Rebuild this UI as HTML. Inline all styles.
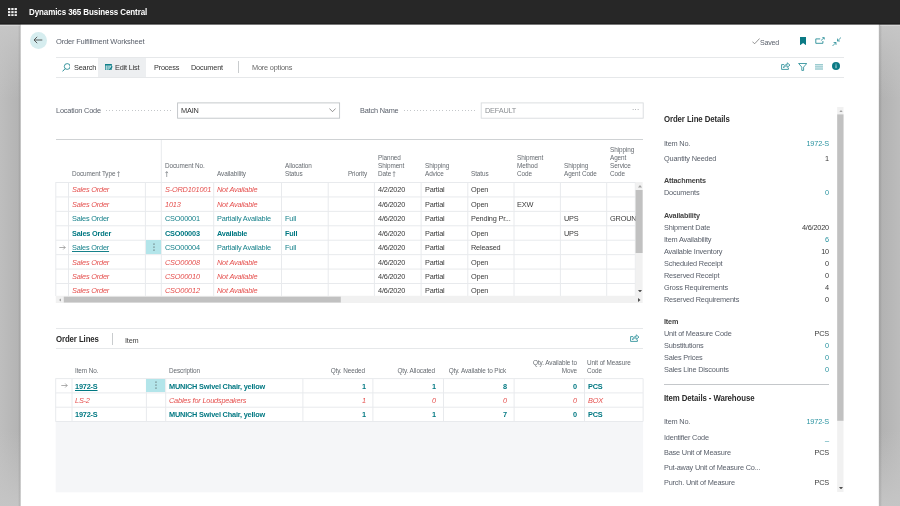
<!DOCTYPE html>
<html><head><meta charset="utf-8">
<style>
html,body{margin:0;padding:0;}
body{width:900px;height:506px;overflow:hidden;position:relative;background:#fff;font-family:"Liberation Sans",sans-serif;font-size:7.7px;color:#3a3a3a;letter-spacing:-0.2px;}
div,span{box-sizing:border-box;}
.a{position:absolute;}
.t{position:absolute;white-space:nowrap;line-height:11.2px;height:11.2px;transform:scaleX(0.955);transform-origin:0 50%;}
.r{text-align:right;}
.t.r{transform-origin:100% 50%;}
.b{font-weight:bold;}
.i{font-style:italic;}
.red{color:#e5504e;}
.teal{color:#16818b;}
.tealb{color:#007882;font-weight:bold;}
.g{color:#5a606b;}
.lnk{color:#2a93a0;}
.hl{position:absolute;height:1px;background:#e5e7e9;}
.vl{position:absolute;width:1px;background:#e5e7e9;}
.hd{color:#656a70;font-size:6.7px;line-height:7.8px;letter-spacing:-0.1px;}
</style></head><body>
<div id="root" style="position:absolute;left:0;top:0;width:900px;height:506px;will-change:transform;transform:translateZ(0);">

<!-- top bar -->
<div class="a" style="left:0;top:0;width:900px;height:24px;background:#272727;"></div>
<svg class="a" style="left:7.8px;top:7.8px" width="9.2" height="8.4" viewBox="0 0 9.2 8.4"><g fill="#f2f2f2"><rect x="0" y="0" width="2.3" height="2.1"/><rect x="3.3" y="0" width="2.3" height="2.1"/><rect x="6.6" y="0" width="2.3" height="2.1"/><rect x="0" y="3.1" width="2.3" height="2.1"/><rect x="3.3" y="3.1" width="2.3" height="2.1"/><rect x="6.6" y="3.1" width="2.3" height="2.1"/><rect x="0" y="6.2" width="2.3" height="2.1"/><rect x="3.3" y="6.2" width="2.3" height="2.1"/><rect x="6.6" y="6.2" width="2.3" height="2.1"/></g></svg>
<div class="t b" style="left:29px;top:7px;color:#fff;font-size:8.4px;letter-spacing:-0.1px;">Dynamics 365 Business Central</div>

<!-- gutters -->
<div class="a" style="left:0;top:24px;width:22px;height:482px;background:linear-gradient(to right,rgba(255,255,255,0) 20.1px,#fff 21.3px),linear-gradient(to right,rgba(0,0,0,0) 18px,rgba(0,0,0,0.07) 19.4px,rgba(0,0,0,0.07) 22px),linear-gradient(to bottom,#c6c6c6 0,rgba(198,198,198,0.6) 25px,rgba(198,198,198,0) 75px,rgba(198,198,198,0) 407px,rgba(198,198,198,0.6) 457px,#c5c5c5 482px),linear-gradient(to right,#bebebe 0,#b4b4b4 18px,#b4b4b4 22px);"></div>
<div class="a" style="left:878px;top:24px;width:22px;height:482px;background:linear-gradient(to right,#fff 0.3px,rgba(255,255,255,0) 1.5px),linear-gradient(to right,rgba(0,0,0,0.07) 0,rgba(0,0,0,0.07) 2.6px,rgba(0,0,0,0) 4px),linear-gradient(to bottom,#c6c6c6 0,rgba(198,198,198,0.6) 25px,rgba(198,198,198,0) 75px,rgba(198,198,198,0) 407px,rgba(198,198,198,0.6) 457px,#c5c5c5 482px),linear-gradient(to right,#b2b2b2 0,#b2b2b2 3px,#bcbcbc 22px);"></div>
<div class="a" style="left:0;top:23px;width:900px;height:1px;background:#1f1f1f;"></div>
<div class="a" style="left:0;top:24px;width:900px;height:1px;background:rgba(30,30,30,0.6);"></div>
<div class="a" style="left:0;top:25px;width:20px;height:1px;background:rgba(255,255,255,0.3);"></div>
<div class="a" style="left:880px;top:25px;width:20px;height:1px;background:rgba(255,255,255,0.3);"></div>

<!-- page header -->
<div class="a" style="left:29.5px;top:31.5px;width:17px;height:17px;border-radius:50%;background:#d6edef;"></div>
<svg class="a" style="left:33px;top:36px" width="10" height="8" viewBox="0 0 10 8"><path d="M9.3 4H1M4.2 0.8L1 4l3.2 3.2" fill="none" stroke="#4a4a4a" stroke-width="0.9"/></svg>
<div class="t g" style="left:56px;top:36.2px;font-size:7.9px;">Order Fulfillment Worksheet</div>

<div class="hl" style="left:56px;top:57px;width:788px;background:#e6e8ea;"></div>
<div class="hl" style="left:56px;top:77px;width:788px;background:#e6e8ea;"></div>

<!-- saved + top right icons -->
<svg class="a" style="left:751.5px;top:38px" width="8" height="6.5" viewBox="0 0 8 6.5"><path d="M0.4 3.6L2.6 5.8L7.6 0.5" fill="none" stroke="#666" stroke-width="0.7"/></svg>
<div class="t g" style="left:760.3px;top:37.2px;font-size:7.4px;">Saved</div>
<svg class="a" style="left:800px;top:37px" width="6.2" height="8.4" viewBox="0 0 6.2 8.4"><path d="M0 0H6.2V8.4L3.1 5.9L0 8.4Z" fill="#0b7a85"/></svg>
<svg class="a" style="left:814.6px;top:37.3px" width="10" height="7" viewBox="0 0 10 7"><path d="M5.2 1.9H0.8V6.3H7.9V4" fill="none" stroke="#1b8791" stroke-width="0.85"/><path d="M5.9 3.6L9.1 0.8M7.3 0.6H9.3V2.5" fill="none" stroke="#1b8791" stroke-width="0.75"/></svg>
<svg class="a" style="left:831.5px;top:36.5px" width="9.5" height="9.5" viewBox="0 0 9.5 9.5"><path d="M9 0.5L5.6 3.9M5.5 1.6V4H7.9M0.5 9L3.9 5.6M1.6 5.5H4V7.9" fill="none" stroke="#1b8791" stroke-width="0.75"/></svg>

<!-- action bar -->
<div class="a" style="left:97.5px;top:58px;width:48.5px;height:19px;background:#edeff1;"></div>
<svg class="a" style="left:61.5px;top:62.5px" width="8.5" height="9" viewBox="0 0 8.5 9"><circle cx="5.2" cy="3.5" r="2.9" fill="none" stroke="#0f7f89" stroke-width="0.8"/><path d="M3.1 5.7L0.5 8.4" stroke="#0f7f89" stroke-width="0.9"/></svg>
<div class="t" style="left:74px;top:62.3px;color:#333;">Search</div>
<svg class="a" style="left:105px;top:63.6px" width="7.6" height="6.8" viewBox="0 0 7.6 6.8"><rect x="0.35" y="0.35" width="5.9" height="5.9" fill="#d9eef0" stroke="#0f7f89" stroke-width="0.7"/><rect x="0" y="0" width="6.6" height="1.5" fill="#0f7f89"/><path d="M2.2 1.4V6.2M4 1.4V6.2" stroke="#0f7f89" stroke-width="0.7"/><path d="M7.2 2.3L4.3 6.4" stroke="#0f7f89" stroke-width="1.2"/></svg>
<div class="t" style="left:115px;top:62.3px;color:#333;">Edit List</div>
<div class="t" style="left:153.5px;top:62.3px;color:#333;">Process</div>
<div class="t" style="left:191px;top:62.3px;color:#333;">Document</div>
<div class="vl" style="left:238px;top:61px;height:12px;background:#c9ccce;"></div>
<div class="t" style="left:252px;top:62.3px;color:#666;">More options</div>

<!-- action bar right icons -->
<svg class="a" style="left:781px;top:62px" width="9.5" height="8" viewBox="0 0 9.5 8"><path d="M3.2 2.6H0.6V7.4H7.4V5.6" fill="none" stroke="#1b8791" stroke-width="0.8"/><path d="M2.6 5.8C2.8 3.6 4.2 2.6 6.2 2.5V0.8L9 3.1L6.2 5.4V3.8C4.6 3.8 3.5 4.4 2.6 5.8Z" fill="none" stroke="#1b8791" stroke-width="0.75" stroke-linejoin="round"/></svg>
<svg class="a" style="left:797.6px;top:62.6px" width="9.4" height="8" viewBox="0 0 9.4 8"><path d="M0.6 0.5H8.8L5.6 4.1V7.4H3.8V4.1Z" fill="none" stroke="#1b8791" stroke-width="0.8" stroke-linejoin="round"/></svg>
<svg class="a" style="left:815px;top:63.5px" width="8.2" height="6.4" viewBox="0 0 8.2 6.4"><rect x="0" y="0" width="8.2" height="6.4" fill="#dceef0"/><path d="M0 0.5H8.2M0 2.3H8.2M0 4.1H8.2M0 5.9H8.2" stroke="#7dbac0" stroke-width="0.7"/></svg>
<svg class="a" style="left:832px;top:62.3px" width="8" height="8" viewBox="0 0 8 8"><circle cx="4" cy="4" r="4" fill="#0b7a85"/><rect x="3.55" y="3.2" width="0.9" height="3" fill="#cfe6e8"/><rect x="3.55" y="1.7" width="0.9" height="0.9" fill="#cfe6e8"/></svg>

<!-- fields -->
<div class="t g" style="left:56px;top:104.8px;">Location Code</div>
<div class="a" style="left:106px;top:110px;width:67px;height:1px;background:repeating-linear-gradient(to right,#c4c7ca 0,#c4c7ca 1px,transparent 1px,transparent 3.2px);"></div>
<svg class="a" style="left:0;top:0" width="900" height="130" viewBox="0 0 900 130"><rect x="177.6" y="102.9" width="162" height="15.3" fill="#fff" stroke="#bfc3c6" stroke-width="0.9"/><rect x="481.2" y="102.9" width="162" height="15.3" fill="#fff" stroke="#d8dbdd" stroke-width="0.9"/></svg>
<div class="t" style="left:181px;top:104.8px;color:#333;">MAIN</div>
<svg class="a" style="left:328.5px;top:108px" width="7" height="4.5" viewBox="0 0 7 4.5"><path d="M0.4 0.5L3.5 3.7L6.6 0.5" fill="none" stroke="#666" stroke-width="0.7"/></svg>

<div class="t g" style="left:360px;top:104.8px;">Batch Name</div>
<div class="a" style="left:403.5px;top:110px;width:74px;height:1px;background:repeating-linear-gradient(to right,#c4c7ca 0,#c4c7ca 1px,transparent 1px,transparent 3.2px);"></div>

<div class="t" style="left:484.5px;top:104.8px;color:#8b8f93;">DEFAULT</div>
<div class="t" style="left:632px;top:103.8px;color:#8e9296;letter-spacing:0.3px;font-size:7px;">···</div>

<!-- G1S -->
<!-- upper grid -->
<div class="hl" style="left:56px;top:139px;width:587px;background:#cfd2d4;"></div>
<div class="t hd" style="left:71.5px;top:170px;height:auto;line-height:8px;">Document Type <svg width="3.6" height="6" viewBox="0 0 3.6 6" style="vertical-align:-0.7px;margin-left:-0.3px"><path d="M1.8 6V0.7M0.4 2.1L1.8 0.6L3.2 2.1" stroke="#5f646a" stroke-width="0.6" fill="none"/></svg></div>
<div class="t hd" style="left:164.5px;top:162px;height:auto;line-height:8px;">Document No.<br><svg width="3.6" height="6" viewBox="0 0 3.6 6" style="vertical-align:-0.7px;margin-left:0px"><path d="M1.8 6V0.7M0.4 2.1L1.8 0.6L3.2 2.1" stroke="#5f646a" stroke-width="0.6" fill="none"/></svg></div>
<div class="t hd" style="left:217px;top:170px;height:auto;line-height:8px;">Availability</div>
<div class="t hd" style="left:285px;top:162px;height:auto;line-height:8px;">Allocation<br>Status</div>
<div class="t hd r" style="left:306.5px;width:60px;top:170px;height:auto;line-height:8px;">Priority</div>
<div class="t hd" style="left:378px;top:154px;height:auto;line-height:8px;">Planned<br>Shipment<br>Date <svg width="3.6" height="6" viewBox="0 0 3.6 6" style="vertical-align:-0.7px;margin-left:-0.3px"><path d="M1.8 6V0.7M0.4 2.1L1.8 0.6L3.2 2.1" stroke="#5f646a" stroke-width="0.6" fill="none"/></svg></div>
<div class="t hd" style="left:424.5px;top:162px;height:auto;line-height:8px;">Shipping<br>Advice</div>
<div class="t hd" style="left:471px;top:170px;height:auto;line-height:8px;">Status</div>
<div class="t hd" style="left:517px;top:154px;height:auto;line-height:8px;">Shipment<br>Method<br>Code</div>
<div class="t hd" style="left:563.5px;top:162px;height:auto;line-height:8px;">Shipping<br>Agent Code</div>
<div class="t hd" style="left:610px;top:146px;height:auto;line-height:8px;">Shipping<br>Agent<br>Service<br>Code</div>
<svg class="a" style="left:0;top:0" width="900" height="506" viewBox="0 0 900 506"><g stroke="#e8eaed" stroke-width="1" fill="none"><line x1="56" y1="182.50" x2="635.5" y2="182.50"/><line x1="56" y1="196.93" x2="635.5" y2="196.93"/><line x1="56" y1="211.36" x2="635.5" y2="211.36"/><line x1="56" y1="225.79" x2="635.5" y2="225.79"/><line x1="56" y1="240.22" x2="635.5" y2="240.22"/><line x1="56" y1="254.65" x2="635.5" y2="254.65"/><line x1="56" y1="269.08" x2="635.5" y2="269.08"/><line x1="56" y1="283.51" x2="635.5" y2="283.51"/><line x1="55.8" y1="182" x2="55.8" y2="296"/><line x1="68.5" y1="182" x2="68.5" y2="296"/><line x1="145.4" y1="182" x2="145.4" y2="296"/><line x1="213.7" y1="182" x2="213.7" y2="296"/><line x1="281.5" y1="182" x2="281.5" y2="296"/><line x1="328.2" y1="182" x2="328.2" y2="296"/><line x1="374.4" y1="182" x2="374.4" y2="296"/><line x1="421.1" y1="182" x2="421.1" y2="296"/><line x1="467.8" y1="182" x2="467.8" y2="296"/><line x1="514.0" y1="182" x2="514.0" y2="296"/><line x1="560.4" y1="182" x2="560.4" y2="296"/><line x1="606.7" y1="182" x2="606.7" y2="296"/><line x1="635.3" y1="182" x2="635.3" y2="296"/><line x1="161.3" y1="140" x2="161.3" y2="296"/></g></svg>
<div class="t red i" style="left:71.5px;top:184.3px;">Sales Order</div>
<div class="t red i" style="left:164.5px;top:184.3px;">S-ORD101001</div>
<div class="t red i" style="left:217px;top:184.3px;">Not Available</div>
<div class="t " style="left:378px;top:184.3px;color:#3a3a3a;">4/2/2020</div>
<div class="t " style="left:424.5px;top:184.3px;color:#3a3a3a;">Partial</div>
<div class="t " style="left:471px;top:184.3px;color:#3a3a3a;">Open</div>
<div class="t red i" style="left:71.5px;top:198.7px;">Sales Order</div>
<div class="t red i" style="left:164.5px;top:198.7px;">1013</div>
<div class="t red i" style="left:217px;top:198.7px;">Not Available</div>
<div class="t " style="left:378px;top:198.7px;color:#3a3a3a;">4/6/2020</div>
<div class="t " style="left:424.5px;top:198.7px;color:#3a3a3a;">Partial</div>
<div class="t " style="left:471px;top:198.7px;color:#3a3a3a;">Open</div>
<div class="t " style="left:517px;top:198.7px;color:#3a3a3a;">EXW</div>
<div class="t teal" style="left:71.5px;top:213.2px;">Sales Order</div>
<div class="t teal" style="left:164.5px;top:213.2px;">CSO00001</div>
<div class="t teal" style="left:217px;top:213.2px;">Partially Available</div>
<div class="t teal" style="left:285px;top:213.2px;">Full</div>
<div class="t " style="left:378px;top:213.2px;color:#3a3a3a;">4/6/2020</div>
<div class="t " style="left:424.5px;top:213.2px;color:#3a3a3a;">Partial</div>
<div class="t " style="left:471px;top:213.2px;color:#3a3a3a;">Pending Pr...</div>
<div class="t " style="left:563.5px;top:213.2px;color:#3a3a3a;">UPS</div>
<div class="t " style="left:610px;top:213.2px;color:#3a3a3a;width:27.6px;overflow:hidden;">GROUN</div>
<div class="t tealb" style="left:71.5px;top:227.6px;">Sales Order</div>
<div class="t tealb" style="left:164.5px;top:227.6px;">CSO00003</div>
<div class="t tealb" style="left:217px;top:227.6px;">Available</div>
<div class="t tealb" style="left:285px;top:227.6px;">Full</div>
<div class="t " style="left:378px;top:227.6px;color:#3a3a3a;">4/6/2020</div>
<div class="t " style="left:424.5px;top:227.6px;color:#3a3a3a;">Partial</div>
<div class="t " style="left:471px;top:227.6px;color:#3a3a3a;">Open</div>
<div class="t " style="left:563.5px;top:227.6px;color:#3a3a3a;">UPS</div>
<div class="t teal" style="left:71.5px;top:242.0px;text-decoration:underline;text-decoration-thickness:0.5px;text-underline-offset:0.8px;">Sales Order</div>
<div class="t teal" style="left:164.5px;top:242.0px;">CSO00004</div>
<div class="t teal" style="left:217px;top:242.0px;">Partially Available</div>
<div class="t teal" style="left:285px;top:242.0px;">Full</div>
<div class="t " style="left:378px;top:242.0px;color:#3a3a3a;">4/6/2020</div>
<div class="t " style="left:424.5px;top:242.0px;color:#3a3a3a;">Partial</div>
<div class="t " style="left:471px;top:242.0px;color:#3a3a3a;">Released</div>
<div class="t red i" style="left:71.5px;top:256.5px;">Sales Order</div>
<div class="t red i" style="left:164.5px;top:256.5px;">CSO00008</div>
<div class="t red i" style="left:217px;top:256.5px;">Not Available</div>
<div class="t " style="left:378px;top:256.5px;color:#3a3a3a;">4/6/2020</div>
<div class="t " style="left:424.5px;top:256.5px;color:#3a3a3a;">Partial</div>
<div class="t " style="left:471px;top:256.5px;color:#3a3a3a;">Open</div>
<div class="t red i" style="left:71.5px;top:270.9px;">Sales Order</div>
<div class="t red i" style="left:164.5px;top:270.9px;">CSO00010</div>
<div class="t red i" style="left:217px;top:270.9px;">Not Available</div>
<div class="t " style="left:378px;top:270.9px;color:#3a3a3a;">4/6/2020</div>
<div class="t " style="left:424.5px;top:270.9px;color:#3a3a3a;">Partial</div>
<div class="t " style="left:471px;top:270.9px;color:#3a3a3a;">Open</div>
<div class="t red i" style="left:71.5px;top:285.3px;">Sales Order</div>
<div class="t red i" style="left:164.5px;top:285.3px;">CSO00012</div>
<div class="t red i" style="left:217px;top:285.3px;">Not Available</div>
<div class="t " style="left:378px;top:285.3px;color:#3a3a3a;">4/6/2020</div>
<div class="t " style="left:424.5px;top:285.3px;color:#3a3a3a;">Partial</div>
<div class="t " style="left:471px;top:285.3px;color:#3a3a3a;">Open</div>
<div class="a" style="left:146px;top:240px;width:15px;height:14px;background:#b3e5ea;"></div>
<svg class="a" style="left:152.5px;top:242.9px" width="2" height="8" viewBox="0 0 2 8"><circle cx="1" cy="1" r="0.62" fill="#383838"/><circle cx="1" cy="4" r="0.62" fill="#383838"/><circle cx="1" cy="7" r="0.62" fill="#383838"/></svg>
<svg class="a" style="left:59px;top:244.5px" width="7" height="5" viewBox="0 0 7 5"><path d="M0.3 2.5H6.2M4.2 0.5L6.2 2.5L4.2 4.5" fill="none" stroke="#777" stroke-width="0.6"/></svg>
<svg class="a" style="left:50px;top:175px" width="600" height="135" viewBox="50 175 600 135"><rect x="635.6" y="182" width="7" height="114" fill="#f1f1f1"/><rect x="635.6" y="190" width="7" height="63" fill="#c1c1c1"/><rect x="55.8" y="295.8" width="586.8" height="7.2" fill="#f1f1f1"/><rect x="63.8" y="296.7" width="277" height="5.8" fill="#c1c1c1"/></svg>
<svg class="a" style="left:637.5px;top:185px" width="4" height="2.5" viewBox="0 0 4 2.5"><path d="M0 2.5L2 0L4 2.5Z" fill="#a3a3a3"/></svg>
<svg class="a" style="left:637.5px;top:289.5px" width="4" height="2.5" viewBox="0 0 4 2.5"><path d="M0 0L2 2.5L4 0Z" fill="#505050"/></svg>
<svg class="a" style="left:58.5px;top:297.5px" width="2.5" height="4" viewBox="0 0 2.5 4"><path d="M2.5 0L0 2L2.5 4Z" fill="#a3a3a3"/></svg>
<svg class="a" style="left:638px;top:297.5px" width="2.5" height="4" viewBox="0 0 2.5 4"><path d="M0 0L2.5 2L0 4Z" fill="#505050"/></svg>
<!-- G1E -->
<!-- G2S -->
<!-- lower grid -->
<div class="hl" style="left:56px;top:328px;width:587px;background:#e6e8ea;"></div>
<div class="hl" style="left:56px;top:348px;width:587px;background:#e6e8ea;"></div>
<div class="t b" style="left:56px;top:334px;font-size:8.2px;color:#2b2b2b;letter-spacing:-0.1px;">Order Lines</div>
<div class="vl" style="left:112px;top:333px;height:12px;background:#c9ccce;"></div>
<div class="t" style="left:125px;top:334.5px;color:#444;">Item</div>
<svg class="a" style="left:630px;top:334px" width="9.5" height="8" viewBox="0 0 9.5 8"><path d="M3.2 2.6H0.6V7.4H7.4V5.6" fill="none" stroke="#1b8791" stroke-width="0.8"/><path d="M2.6 5.8C2.8 3.6 4.2 2.6 6.2 2.5V0.8L9 3.1L6.2 5.4V3.8C4.6 3.8 3.5 4.4 2.6 5.8Z" fill="none" stroke="#1b8791" stroke-width="0.75" stroke-linejoin="round"/></svg>
<svg class="a" style="left:0;top:400px" width="900" height="106" viewBox="0 400 900 106"><rect x="55.7" y="421.5" width="587.4" height="70.8" fill="#f5f6f8"/></svg>
<div class="t hd" style="left:75px;top:366.5px;height:auto;line-height:8px;">Item No.</div>
<div class="t hd" style="left:169px;top:366.5px;height:auto;line-height:8px;">Description</div>
<div class="t hd r" style="left:274.5px;width:90px;top:366.5px;height:auto;line-height:8px;">Qty. Needed</div>
<div class="t hd r" style="left:345px;width:90px;top:366.5px;height:auto;line-height:8px;">Qty. Allocated</div>
<div class="t hd r" style="left:416px;width:90px;top:366.5px;height:auto;line-height:8px;">Qty. Available to Pick</div>
<div class="t hd r" style="left:486.5px;width:90px;top:358.5px;height:auto;line-height:8px;">Qty. Available to<br>Move</div>
<div class="t hd" style="left:587px;top:358.5px;height:auto;line-height:8px;">Unit of Measure<br>Code</div>
<svg class="a" style="left:0;top:0" width="900" height="506" viewBox="0 0 900 506"><g stroke="#e8eaed" stroke-width="1" fill="none"><line x1="55.5" y1="378.60" x2="643.1" y2="378.60"/><line x1="55.5" y1="392.90" x2="643.1" y2="392.90"/><line x1="55.5" y1="407.20" x2="643.1" y2="407.20"/><line x1="55.5" y1="421.50" x2="643.1" y2="421.50"/><line x1="55.7" y1="378.5" x2="55.7" y2="421.5"/><line x1="72.0" y1="378.5" x2="72.0" y2="421.5"/><line x1="146.4" y1="378.5" x2="146.4" y2="421.5"/><line x1="165.7" y1="378.5" x2="165.7" y2="421.5"/><line x1="302.9" y1="378.5" x2="302.9" y2="421.5"/><line x1="372.9" y1="378.5" x2="372.9" y2="421.5"/><line x1="443.5" y1="378.5" x2="443.5" y2="421.5"/><line x1="514.1" y1="378.5" x2="514.1" y2="421.5"/><line x1="584.5" y1="378.5" x2="584.5" y2="421.5"/><line x1="643.1" y1="378.5" x2="643.1" y2="421.5"/></g></svg>
<div class="t tealb" style="left:75px;top:380.7px;text-decoration:underline;text-decoration-thickness:0.5px;text-underline-offset:0.8px;">1972-S</div>
<div class="t tealb" style="left:169px;top:380.7px;">MUNICH Swivel Chair, yellow</div>
<div class="t tealb r" style="left:325.5px;width:40px;top:380.7px;">1</div>
<div class="t tealb r" style="left:396px;width:40px;top:380.7px;">1</div>
<div class="t tealb r" style="left:466.5px;width:40px;top:380.7px;">8</div>
<div class="t tealb r" style="left:537px;width:40px;top:380.7px;">0</div>
<div class="t tealb" style="left:587.5px;top:380.7px;">PCS</div>
<div class="t red i" style="left:75px;top:395.0px;">LS-2</div>
<div class="t red i" style="left:169px;top:395.0px;">Cables for Loudspeakers</div>
<div class="t red i r" style="left:325.5px;width:40px;top:395.0px;">1</div>
<div class="t red i r" style="left:396px;width:40px;top:395.0px;">0</div>
<div class="t red i r" style="left:466.5px;width:40px;top:395.0px;">0</div>
<div class="t red i r" style="left:537px;width:40px;top:395.0px;">0</div>
<div class="t red i" style="left:587.5px;top:395.0px;">BOX</div>
<div class="t tealb" style="left:75px;top:409.3px;">1972-S</div>
<div class="t tealb" style="left:169px;top:409.3px;">MUNICH Swivel Chair, yellow</div>
<div class="t tealb r" style="left:325.5px;width:40px;top:409.3px;">1</div>
<div class="t tealb r" style="left:396px;width:40px;top:409.3px;">1</div>
<div class="t tealb r" style="left:466.5px;width:40px;top:409.3px;">7</div>
<div class="t tealb r" style="left:537px;width:40px;top:409.3px;">0</div>
<div class="t tealb" style="left:587.5px;top:409.3px;">PCS</div>
<div class="a" style="left:146px;top:379px;width:19px;height:13px;background:#b3e5ea;"></div>
<svg class="a" style="left:154.6px;top:381.2px" width="2" height="8" viewBox="0 0 2 8"><circle cx="1" cy="1" r="0.62" fill="#383838"/><circle cx="1" cy="4" r="0.62" fill="#383838"/><circle cx="1" cy="7" r="0.62" fill="#383838"/></svg>
<svg class="a" style="left:60.5px;top:383px" width="7" height="5" viewBox="0 0 7 5"><path d="M0.3 2.5H6.2M4.2 0.5L6.2 2.5L4.2 4.5" fill="none" stroke="#777" stroke-width="0.6"/></svg>
<!-- G2E -->
<!-- PS -->
<!-- right panel -->
<div class="t b" style="left:664px;top:113.7px;font-size:8.2px;color:#2b2b2b;letter-spacing:-0.1px;">Order Line Details</div>
<div class="t g" style="left:664px;top:138.1px;">Item No.</div>
<div class="t r lnk" style="left:749px;width:80px;top:138.1px;">1972-S</div>
<div class="t g" style="left:664px;top:153.0px;">Quantity Needed</div>
<div class="t r " style="left:749px;width:80px;top:153.0px;">1</div>
<div class="t b" style="left:664px;top:175.2px;color:#444;font-size:7.6px;">Attachments</div>
<div class="t g" style="left:664px;top:187.0px;">Documents</div>
<div class="t r lnk" style="left:749px;width:80px;top:187.0px;">0</div>
<div class="t b" style="left:664px;top:210.0px;color:#444;font-size:7.6px;">Availability</div>
<div class="t g" style="left:664px;top:221.6px;">Shipment Date</div>
<div class="t r " style="left:749px;width:80px;top:221.6px;">4/6/2020</div>
<div class="t g" style="left:664px;top:233.6px;">Item Availability</div>
<div class="t r lnk" style="left:749px;width:80px;top:233.6px;">6</div>
<div class="t g" style="left:664px;top:245.6px;">Available Inventory</div>
<div class="t r " style="left:749px;width:80px;top:245.6px;">10</div>
<div class="t g" style="left:664px;top:257.6px;">Scheduled Receipt</div>
<div class="t r " style="left:749px;width:80px;top:257.6px;">0</div>
<div class="t g" style="left:664px;top:269.6px;">Reserved Receipt</div>
<div class="t r " style="left:749px;width:80px;top:269.6px;">0</div>
<div class="t g" style="left:664px;top:281.6px;">Gross Requirements</div>
<div class="t r " style="left:749px;width:80px;top:281.6px;">4</div>
<div class="t g" style="left:664px;top:293.6px;">Reserved Requirements</div>
<div class="t r " style="left:749px;width:80px;top:293.6px;">0</div>
<div class="t b" style="left:664px;top:316.0px;color:#444;font-size:7.6px;">Item</div>
<div class="t g" style="left:664px;top:328.1px;">Unit of Measure Code</div>
<div class="t r " style="left:749px;width:80px;top:328.1px;">PCS</div>
<div class="t g" style="left:664px;top:340.0px;">Substitutions</div>
<div class="t r lnk" style="left:749px;width:80px;top:340.0px;">0</div>
<div class="t g" style="left:664px;top:352.1px;">Sales Prices</div>
<div class="t r lnk" style="left:749px;width:80px;top:352.1px;">0</div>
<div class="t g" style="left:664px;top:364.3px;">Sales Line Discounts</div>
<div class="t r lnk" style="left:749px;width:80px;top:364.3px;">0</div>
<div class="hl" style="left:664px;top:384px;width:165px;background:#c4c7ca;"></div>
<div class="t b" style="left:664px;top:392.5px;font-size:8.2px;color:#2b2b2b;letter-spacing:-0.1px;">Item Details - Warehouse</div>
<div class="t g" style="left:664px;top:416.3px;">Item No.</div>
<div class="t r lnk" style="left:749px;width:80px;top:416.3px;">1972-S</div>
<div class="t g" style="left:664px;top:431.8px;">Identifier Code</div>
<div class="t r lnk" style="left:749px;width:80px;top:431.8px;">_</div>
<div class="t g" style="left:664px;top:446.9px;">Base Unit of Measure</div>
<div class="t r " style="left:749px;width:80px;top:446.9px;">PCS</div>
<div class="t g" style="left:664px;top:461.5px;">Put-away Unit of Measure Co...</div>
<div class="t g" style="left:664px;top:477.0px;">Purch. Unit of Measure</div>
<div class="t r " style="left:749px;width:80px;top:477.0px;">PCS</div>
<svg class="a" style="left:830px;top:100px" width="20" height="400" viewBox="830 100 20 400"><rect x="837.2" y="107" width="6.3" height="385" fill="#f1f1f1"/><rect x="837.2" y="114.4" width="6.3" height="306.4" fill="#c1c1c1"/></svg>
<svg class="a" style="left:838.5px;top:109.5px" width="4" height="2.5" viewBox="0 0 4 2.5"><path d="M0 2.5L2 0L4 2.5Z" fill="#a3a3a3"/></svg>
<svg class="a" style="left:838.5px;top:486.5px" width="4" height="2.5" viewBox="0 0 4 2.5"><path d="M0 0L2 2.5L4 0Z" fill="#505050"/></svg>
<!-- PE -->



</div>
</body></html>
